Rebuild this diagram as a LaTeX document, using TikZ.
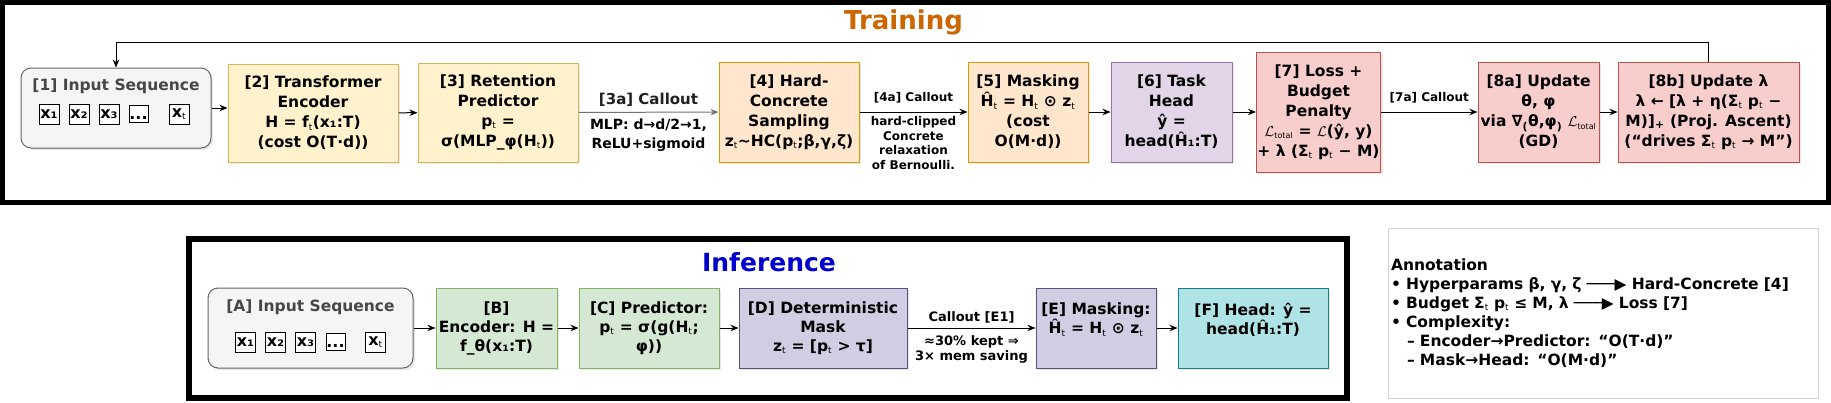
\documentclass[tikz,border=0pt]{standalone}
\usepackage{fontspec}
\setmainfont{DejaVu Sans}
\usetikzlibrary{arrows.meta,shadows}
\definecolor{trainorange}{RGB}{204,102,0}
\definecolor{infblue}{RGB}{0,0,204}
\definecolor{inputfill}{HTML}{F5F5F5}
\definecolor{inputdraw}{HTML}{666666}
\definecolor{yelfill}{HTML}{FFF2CC}
\definecolor{yeldraw}{HTML}{D6B656}
\definecolor{orfill}{HTML}{FFE6CC}
\definecolor{ordraw}{HTML}{D79B00}
\definecolor{purfill}{HTML}{E1D5E7}
\definecolor{purdraw}{HTML}{9673A6}
\definecolor{redfill}{HTML}{F8CECC}
\definecolor{reddraw}{HTML}{B85450}
\definecolor{grnfill}{HTML}{D5E8D4}
\definecolor{grndraw}{HTML}{82B366}
\definecolor{lavfill}{HTML}{D0CEE2}
\definecolor{lavdraw}{HTML}{56517E}
\definecolor{tealfill}{HTML}{B0E3E6}
\definecolor{tealdraw}{HTML}{0E8088}
\definecolor{annogray}{HTML}{D4D4D4}
\newcommand{\fsz}[2]{\fontsize{#1}{#2}\selectfont}
\newcommand{\st}{\textsubscript{\fsz{9}{9}\mdseries t}}
\newcommand{\Ltot}{$\mathcal{L}$\textsubscript{\fsz{8}{8}\mdseries total}}
\begin{document}
\begin{tikzpicture}[x=1pt,y=-1pt,
  frame/.style={draw, line width=5pt},
  stage/.style={draw, line width=1pt, align=center, inner sep=1pt,
    font=\fsz{15.5}{20}\bfseries,
    drop shadow={opacity=0.18, shadow xshift=2pt, shadow yshift=-2pt}},
  infstage/.style={stage, font=\fsz{15.5}{19}\bfseries, minimum height=80pt},
  inputbox/.style={stage, rounded corners=10pt, fill=inputfill, draw=inputdraw},
  inputtitle/.style={font=\fsz{15.5}{18}\bfseries, text=black!72},
  tok/.style={draw, line width=0.8pt, fill=white, inner sep=0pt,
    minimum width=20pt, minimum height=20pt, font=\fsz{16}{16}\bfseries},
  dots/.style={tok, minimum width=19pt, minimum height=17pt, text height=12pt, text depth=0pt},
  arr/.style={-{Stealth[length=8pt, width=6.5pt]}, line width=1pt},
  callout/.style={align=center, font=\fsz{12}{14.5}\bfseries, inner sep=0pt},
]
\useasboundingbox (0,0) rectangle (1831,402);

% training
\draw[frame] (2.5,2.5) rectangle (1828.5,202.5);
\node[font=\fsz{26}{30}\bfseries, text=trainorange] (traintitle) at (903.5,22) {Training};

\node[inputbox, minimum width=190pt, minimum height=80pt] (inseq) at (116,108) {};
\node[inputtitle] (inseqtitle) at (116,86) {[1] Input Sequence};
\node[tok] (tx1) at (49,114) {x₁};
\node[tok] (tx2) at (79,114) {x₂};
\node[tok] (tx3) at (109,114) {x₃};
\node[dots] (txdots) at (138.5,113.5) {...};
\node[tok] (txt) at (179,114) {x\st};

\node[stage, fill=yelfill, draw=yeldraw, minimum width=170pt, minimum height=98pt] (enc) at (313,113)
  {[2] Transformer\\Encoder\\H = f\st(x₁:T)\\(cost O(T·d))};
\node[stage, fill=yelfill, draw=yeldraw, minimum width=160pt, minimum height=99pt] (ret) at (498,112.5)
  {[3] Retention\\Predictor\\p\st{} =\\σ(MLP\_φ(H\st))};
\node[stage, fill=orfill, draw=ordraw, minimum width=140pt, minimum height=100pt] (hcs) at (789,112)
  {[4] Hard-\\Concrete\\Sampling\\z\st\textasciitilde HC(p\st;β,γ,ζ)};
\node[stage, fill=orfill, draw=ordraw, minimum width=120pt, minimum height=100pt] (mask) at (1028,112)
  {[5] Masking\\Ĥ\st{} = H\st{} ⊙ z\st\\(cost\\O(M·d))};
\node[stage, fill=purfill, draw=purdraw, minimum width=121pt, minimum height=100pt] (head) at (1171.5,112)
  {[6] Task\\Head\\ŷ =\\head(Ĥ₁:T)};
\node[stage, fill=redfill, draw=reddraw, minimum width=121pt, minimum height=120pt] (loss) at (1318.5,112)
  {[7] Loss +\\Budget\\Penalty\\\Ltot{} = $\mathcal{L}$(ŷ, y)\\+ λ (Σ\st{} p\st{} − M)};
\node[stage, fill=redfill, draw=reddraw, minimum width=121pt, minimum height=100pt] (updp) at (1538.5,112)
  {[8a] Update\\θ, φ\\via ∇\textsubscript{(}θ,φ\textsubscript{)} \Ltot\\(GD)};
\node[stage, fill=redfill, draw=reddraw, minimum width=181pt, minimum height=100pt] (updl) at (1708.5,112)
  {[8b] Update λ\\λ ← [λ + η(Σ\st{} p\st{} −\\M)]\textsubscript{+} (Proj. Ascent)\\(“drives Σ\st{} p\st{} → M”)};

\draw[arr] (inseq.east) -- (inseq.east -| enc.west);
\draw[arr] (enc) -- (ret);
\draw[arr, draw=black!55] (ret) -- (hcs)
  node[midway, above=5pt, callout, font=\fsz{15}{18}\bfseries, text=black!88] (co3a) {[3a] Callout}
  node[midway, below=6pt, callout, font=\fsz{14}{19}\bfseries] (co3b) {MLP: d→d/2→1,\\ReLU+sigmoid};
\draw[arr] (hcs) -- (mask)
  node[midway, above=8pt, callout] (co4a) {[4a] Callout}
  node[midway, below=4pt, callout] (co4b) {hard-clipped\\Concrete\\relaxation\\of Bernoulli.};
\draw[arr] (mask) -- (head);
\draw[arr] (head) -- (loss);
\draw[arr] (loss) -- (updp)
  node[midway, above=8pt, callout] (co7a) {[7a] Callout};
\draw[arr] (updp) -- (updl);

\coordinate (looptop) at (1708.5,42);
\draw[arr] (updl.north) -- (looptop) -| (inseq.north);

% inference
\draw[frame, line width=6pt] (189,239) rectangle (1347,398);
\node[font=\fsz{25}{28}\bfseries, text=infblue] (inftitle) at (769,262) {Inference};

\node[inputbox, minimum width=205pt, minimum height=80pt] (iseq) at (310.5,328) {};
\node[inputtitle] (iseqtitle) at (310.5,307) {[A] Input Sequence};
\node[tok] (ix1) at (245.5,342) {x₁};
\node[tok] (ix2) at (275.5,342) {x₂};
\node[tok] (ix3) at (305.5,342) {x₃};
\node[dots] (ixdots) at (335.5,341.5) {...};
\node[tok] (ixt) at (375.5,342) {x\st};

\node[infstage, fill=grnfill, draw=grndraw, minimum width=121pt] (ienc) at (496.5,328)
  {[B]\\Encoder: H =\\f\_θ(x₁:T)};
\node[infstage, fill=grnfill, draw=grndraw, minimum width=140pt] (ipred) at (649,328)
  {[C] Predictor:\\p\st{} = σ(g(H\st;\\φ))};
\node[infstage, fill=lavfill, draw=lavdraw, minimum width=168pt] (idet) at (823,328)
  {[D] Deterministic\\Mask\\z\st{} = [p\st{} > τ]};
\node[infstage, fill=lavfill, draw=lavdraw, minimum width=120pt] (imask) at (1096,328)
  {[E] Masking:\\Ĥ\st{} = H\st{} ⊙ z\st\\\mbox{}};
\node[infstage, fill=tealfill, draw=tealdraw, minimum width=150pt] (ihead) at (1253,328)
  {[F] Head: ŷ =\\head(Ĥ₁:T)\\\mbox{}};

\draw[arr] (iseq.east) -- (iseq.east -| ienc.west);
\draw[arr] (ienc) -- (ipred);
\draw[arr] (ipred) -- (idet);
\draw[arr] (idet) -- (imask)
  node[midway, above=4.5pt, callout, font=\fsz{13}{15}\bfseries] (coe1) {Callout [E1]}
  node[midway, below=7pt, callout, font=\fsz{13}{15}\bfseries] (coe2) {≈30\% kept ⇒\\3× mem saving};
\draw[arr] (imask) -- (ihead);

% annotation
\node[draw=annogray, line width=1pt, text width=424pt, minimum height=170pt, inner xsep=3pt,
  align=left, font=\fsz{15.5}{19}\bfseries] (annot) at (1603,313)
  {Annotation\\
   • Hyperparams β, γ, ζ ───▶ Hard-Concrete [4]\\
   • Budget Σ\st{} p\st{} ≤ M, λ ───▶ Loss [7]\\
   • Complexity:\\
   \hspace*{16pt}– Encoder→Predictor: “O(T·d)”\\
   \hspace*{16pt}– Mask→Head: “O(M·d)”};
\end{tikzpicture}
\end{document}
